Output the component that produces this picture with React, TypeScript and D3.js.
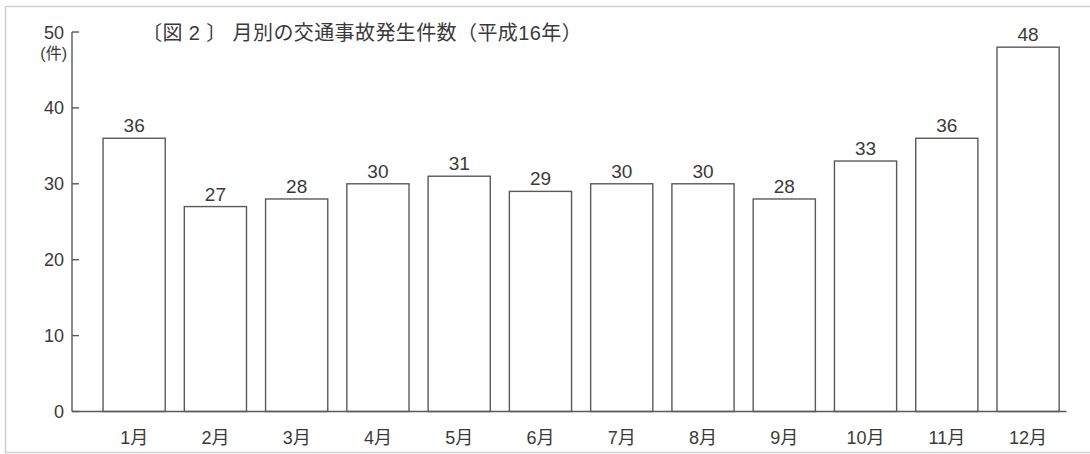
import React from 'react';
import * as d3 from 'd3';

const months = ['1月', '2月', '3月', '4月', '5月', '6月', '7月', '8月', '9月', '10月', '11月', '12月'];
const counts = [36, 27, 28, 30, 31, 29, 30, 30, 28, 33, 36, 48];
const yTicks = [0, 10, 20, 30, 40, 50];
const title = '〔図 2 〕 月別の交通事故発生件数（平成16年）';
const unit = '(件)';

const W = 1090;
const H = 454;
const font = '"Liberation Sans", "Noto Sans CJK JP", sans-serif';
const ink = '#3a3a3a';
const line = '#5a5a5a';

const App: React.FC = () => {
  const axisX = 72;
  const x = d3.scaleBand<string>().domain(months).range([93.5, 1068.7]).paddingInner(0.235).paddingOuter(0.1175);
  const y = d3.scaleLinear().domain([0, 50]).range([411.5, 32]);

  return (
    <svg
      width={W}
      height={H}
      style={{ position: 'absolute', left: 0, top: 0, background: '#fff' }}
      fontFamily={font}
    >
      {/* page frame */}
      <rect x={5.5} y={6.5} width={W + 10} height={446} fill="#fff" stroke="#d0d0d0" strokeWidth={1.5} />

      <text x={142} y={40} fontSize={20} fill={ink} letterSpacing={0.4}>
        {title}
      </text>

      {/* y axis */}
      <line x1={axisX} x2={axisX} y1={y(50)} y2={y(0)} stroke={line} strokeWidth={1.4} />
      {yTicks.map((t) => (
        <g key={t}>
          <line x1={axisX} x2={axisX + 7} y1={y(t)} y2={y(t)} stroke={line} strokeWidth={1.4} />
          <text x={64} y={y(t) + 6.5} fontSize={18} fill={ink} textAnchor="end">
            {t}
          </text>
        </g>
      ))}
      <text x={67} y={59} fontSize={16} fill={ink} textAnchor="end">
        {unit}
      </text>

      {/* bars */}
      {months.map((m, i) => (
        <g key={m}>
          <rect
            x={x(m)!}
            y={y(counts[i])}
            width={x.bandwidth()}
            height={y(0) - y(counts[i])}
            fill="#fff"
            stroke={line}
            strokeWidth={1.4}
          />
          <text
            x={x(m)! + x.bandwidth() / 2}
            y={y(counts[i]) - 6}
            fontSize={19}
            fill={ink}
            textAnchor="middle"
          >
            {counts[i]}
          </text>
          <text x={x(m)! + x.bandwidth() / 2} y={444} fontSize={18} fill={ink} textAnchor="middle">
            {m}
          </text>
        </g>
      ))}

      {/* x baseline */}
      <line x1={axisX} x2={1066.5} y1={y(0)} y2={y(0)} stroke={line} strokeWidth={1.4} />
    </svg>
  );
};

export default App;
